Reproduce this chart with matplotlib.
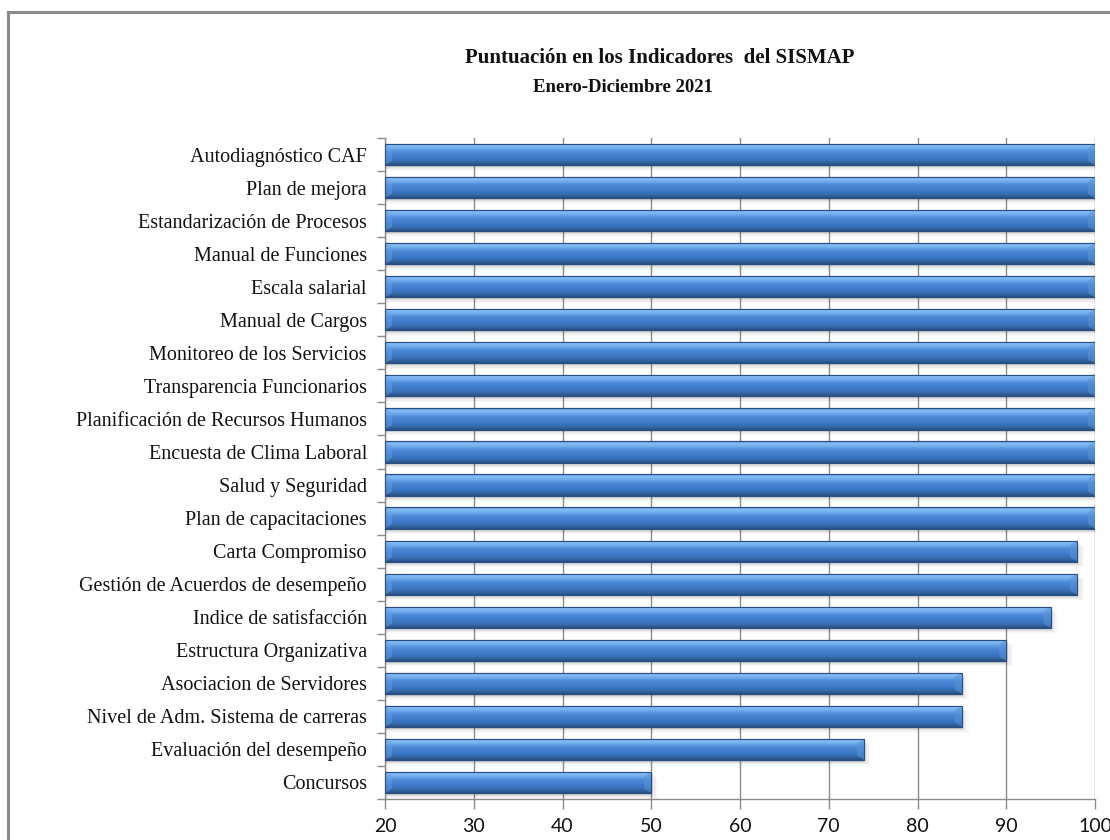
import numpy as np
import matplotlib
matplotlib.use("Agg")
import matplotlib.pyplot as plt
from matplotlib.colors import LinearSegmentedColormap
from matplotlib.patches import Rectangle
from matplotlib.ticker import FixedLocator

categories = [
    "Autodiagnóstico CAF",
    "Plan de mejora",
    "Estandarización de Procesos",
    "Manual de Funciones",
    "Escala salarial",
    "Manual de Cargos",
    "Monitoreo de los Servicios",
    "Transparencia Funcionarios",
    "Planificación de Recursos Humanos",
    "Encuesta de Clima Laboral",
    "Salud y Seguridad",
    "Plan de capacitaciones",
    "Carta Compromiso",
    "Gestión de Acuerdos de desempeño",
    "Indice de satisfacción",
    "Estructura Organizativa",
    "Asociacion de Servidores",
    "Nivel de Adm. Sistema de carreras",
    "Evaluación del desempeño",
    "Concursos",
]
values = [100, 100, 100, 100, 100, 100, 100, 100, 100, 100, 100, 100,
          98, 98, 95, 90, 85, 85, 74, 50]
x_ticks = [20, 30, 40, 50, 60, 70, 80, 90, 100]
title = "Puntuación en los Indicadores  del SISMAP"
subtitle = "Enero-Diciembre 2021"

W, H = 1110, 840
fig = plt.figure(figsize=(W / 100, H / 100), dpi=100)
fig.patch.set_facecolor("white")

# outer frame (cropped at right/bottom)
frame = Rectangle((8 / W, -0.05), 1.2, (H - 12) / H + 0.05, transform=fig.transFigure,
                  fill=False, edgecolor="#8a8a8a", linewidth=2.2, zorder=0)
fig.patches.append(frame)

ax = fig.add_axes([385 / W, 1 - 799 / H, (1095 - 385) / W, (799 - 138) / H])
n = len(categories)
y = np.arange(n)
bar_h = 0.64

ax.set_xlim(x_ticks[0], x_ticks[-1])
ax.set_ylim(n - 0.5, -0.5)

# soft shadow under bars
for i, v in enumerate(values):
    for k, a in enumerate([0.12, 0.09, 0.06, 0.04]):
        off = 0.05 + 0.04 * k
        ax.add_patch(Rectangle((x_ticks[0], i - bar_h / 2 + off), v - x_ticks[0] + 0.25 * k, bar_h,
                               facecolor="#505050", edgecolor="none", alpha=a, zorder=2))

bars = ax.barh(y, [v - x_ticks[0] for v in values], left=x_ticks[0], height=bar_h,
               color="#3f7bcc", edgecolor="#2b5288", linewidth=0.8, zorder=3)

cmap = LinearSegmentedColormap.from_list("cyl", [
    (0.0, "#5592da"),
    (0.10, "#86bdf4"),
    (0.22, "#75afee"),
    (0.42, "#4a88d6"),
    (0.70, "#3d78c6"),
    (0.90, "#32639f"),
    (1.0, "#284d80"),
])
grad = np.linspace(0, 1, 64).reshape(-1, 1)
for b, v in zip(bars, values):
    x0 = b.get_x()
    x1 = x0 + b.get_width()
    y0 = b.get_y()
    y1 = y0 + b.get_height()
    im = ax.imshow(grad, cmap=cmap, aspect="auto", extent=[x0, x1, y1, y0],
                   interpolation="bilinear", zorder=4)
    im.set_clip_path(b)
    # bevelled ends
    ew = 0.8
    ax.fill([x0, x0 + ew, x0 + ew, x0], [y0, y0 + 0.13, y1 - 0.13, y1],
            color="#6aa2e2", alpha=0.45, zorder=5, linewidth=0)
    ax.fill([x1, x1 - ew, x1 - ew, x1], [y0, y0 + 0.13, y1 - 0.13, y1],
            color="#5b93d6", alpha=0.55, zorder=5, linewidth=0)
    ax.add_patch(Rectangle((x0, y0), x1 - x0, y1 - y0, fill=False,
                           edgecolor="#2a4f82", linewidth=0.8, zorder=6))

ax.set_xticks(x_ticks)
ax.set_xticklabels([str(t) for t in x_ticks])
ax.xaxis.grid(True, color="#8c8c8c", linewidth=1.0, zorder=1)
ax.set_axisbelow(True)

ax.set_yticks(y)
ax.set_yticklabels(categories, fontsize=14.5, family="Liberation Serif", color="#111111")
ax.yaxis.set_minor_locator(FixedLocator(np.arange(-0.5, n, 1.0)))
ax.tick_params(axis="y", which="major", length=0, pad=13)
ax.tick_params(axis="y", which="minor", length=6, color="#8c8c8c", width=1.0)
ax.tick_params(axis="x", which="major", length=7, color="#8c8c8c", width=1.0,
               labelsize=14, pad=7, labelcolor="#111111")
for lab in ax.get_xticklabels():
    lab.set_family("Lato")

for s in ["top", "right"]:
    ax.spines[s].set_visible(False)
for s in ["left", "bottom"]:
    ax.spines[s].set_color("#8c8c8c")
    ax.spines[s].set_linewidth(1.0)

fig.text(660 / W, 1 - 58 / H, title, ha="center", va="center", fontsize=15,
         fontweight="bold", family="Liberation Serif", color="#111111")
fig.text(623 / W, 1 - 88 / H, subtitle, ha="center", va="center", fontsize=13.5,
         fontweight="bold", family="Liberation Serif", color="#111111")

fig.savefig("out.png", dpi=100, facecolor="white")
